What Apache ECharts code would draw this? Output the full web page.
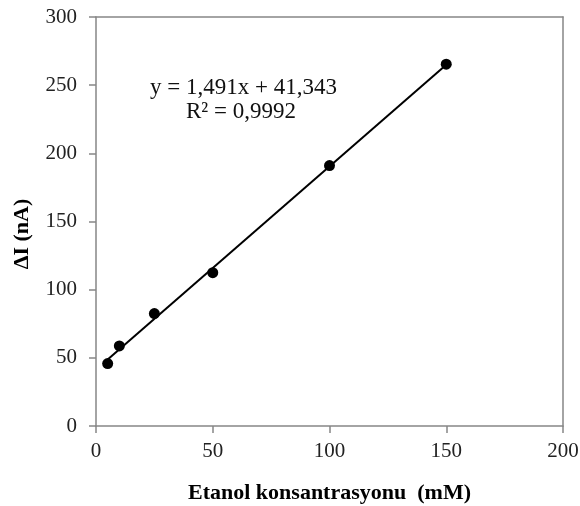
<!DOCTYPE html>
<html>
<head>
<meta charset="utf-8">
<script src="https://cdn.jsdelivr.net/npm/echarts@6/dist/echarts.min.js"></script>
<style>
  html, body { margin: 0; padding: 0; background: #fff; }
  #main { width: 580px; height: 506px; }
</style>
</head>
<body>
<div id="main"></div>
<script>
var concentrations = [5, 10, 25, 50, 100, 150];
var currents = [45.8, 58.7, 82.5, 112.5, 191, 265.4];
var trendX = [5, 150];
var trendY = [48.8, 265.0];
var xTicks = [0, 50, 100, 150, 200];
var yTicks = [0, 50, 100, 150, 200, 250, 300];

var chartDom = document.getElementById('main');
var myChart = echarts.init(chartDom);
var option;

var font = 'Liberation Serif';
var axisGray = '#868686';

option = {
  animation: false,
  grid: { left: 96, top: 17, right: 17, bottom: 80, outerBoundsMode: 'none' },
  xAxis: [{
    type: 'value',
    min: xTicks[0],
    max: xTicks[xTicks.length - 1],
    interval: 50,
    name: 'Etanol konsantrasyonu  (mM)',
    nameLocation: 'middle',
    nameGap: 56,
    nameTextStyle: { fontFamily: font, fontWeight: 'bold', fontSize: 22, color: '#000' },
    axisLine: { lineStyle: { color: axisGray, width: 1.5 } },
    axisTick: { show: true, inside: false, length: 7, lineStyle: { color: axisGray, width: 1.5 } },
    axisLabel: { fontFamily: font, fontSize: 21, color: '#222', margin: 15 },
    splitLine: { show: false }
  }, {
    type: 'value',
    position: 'top',
    min: 0, max: 200,
    axisLine: { show: true, onZero: false, lineStyle: { color: axisGray, width: 1.5 } },
    axisTick: { show: false }, axisLabel: { show: false }, splitLine: { show: false }
  }],
  yAxis: [{
    type: 'value',
    min: yTicks[0],
    max: yTicks[yTicks.length - 1],
    interval: 50,
    axisLine: { show: true, lineStyle: { color: axisGray, width: 1.5 } },
    axisTick: { show: true, inside: false, length: 7, lineStyle: { color: axisGray, width: 1.5 } },
    axisLabel: { fontFamily: font, fontSize: 21, color: '#222', margin: 19 },
    splitLine: { show: false }
  }, {
    type: 'value',
    position: 'right',
    min: 0, max: 300,
    axisLine: { show: true, onZero: false, lineStyle: { color: axisGray, width: 1.5 } },
    axisTick: { show: false }, axisLabel: { show: false }, splitLine: { show: false }
  }],
  graphic: [
    {
      type: 'text', x: 22, y: 234, rotation: Math.PI / 2,
      style: { text: 'ΔI (nA)', font: 'bold 22px "Liberation Serif"', fill: '#000', align: 'center', verticalAlign: 'middle' }
    },
    { type: 'text', left: 150, top: 76, style: { text: 'y = 1,491x + 41,343', font: '23px "Liberation Serif"', fill: '#111' } },
    { type: 'text', left: 186, top: 100, style: { text: 'R² = 0,9992', font: '23px "Liberation Serif"', fill: '#111' } }
  ],
  series: [
    {
      name: 'Trend',
      type: 'line',
      data: trendX.map(function (x, i) { return [x, trendY[i]]; }),
      showSymbol: false,
      lineStyle: { color: '#000', width: 2 },
      z: 1
    },
    {
      name: 'Ölçüm',
      type: 'scatter',
      data: concentrations.map(function (x, i) { return [x, currents[i]]; }),
      symbolSize: 11,
      itemStyle: { color: '#000', opacity: 1 },
      z: 2
    }
  ]
};

option && myChart.setOption(option);
</script>
</body>
</html>
